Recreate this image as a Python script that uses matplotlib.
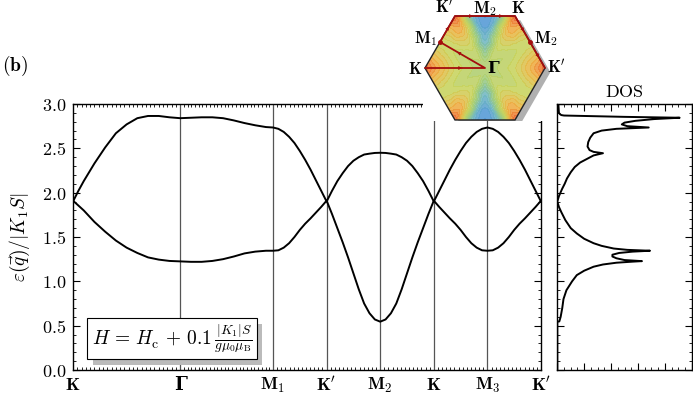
import numpy as np
import matplotlib
matplotlib.use("Agg")
import matplotlib.pyplot as plt
import matplotlib.patheffects as pe
from matplotlib.patches import Polygon
from matplotlib.colors import LinearSegmentedColormap
from matplotlib.ticker import MultipleLocator, FixedLocator, FuncFormatter
import matplotlib.tri as mtri

plt.rcParams["mathtext.fontset"] = "cm"
plt.rcParams["font.family"] = ["DejaVu Serif"]

# ---- path through the Brillouin zone --------------------------------
sym_pos = [0.0, 1.0, 1.866, 2.366, 2.866, 3.366, 3.866, 4.366]
sym_labels = [r"$\mathbf{K}$", "Γ", r"$\mathbf{M}_1$",
              r"$\mathbf{K}'$", r"$\mathbf{M}_2$", r"$\mathbf{K}$",
              r"$\mathbf{M}_3$", r"$\mathbf{K}'$"]

# ---- magnon bands ----------------------------------------------------
q = [0.0, 0.05, 0.1, 0.15, 0.2, 0.25, 0.3, 0.4, 0.5, 0.6, 0.7, 0.8, 0.9, 1.0,
     1.1, 1.2, 1.3, 1.4, 1.5, 1.6, 1.7, 1.8, 1.866,
     1.916, 1.966, 2.016, 2.066, 2.116, 2.166, 2.216, 2.266, 2.316, 2.366,
     2.416, 2.466, 2.516, 2.566, 2.616, 2.666, 2.716, 2.766, 2.816, 2.866,
     2.916, 2.966, 3.016, 3.066, 3.116, 3.166, 3.216, 3.266, 3.316, 3.366,
     3.416, 3.466, 3.516, 3.566, 3.616, 3.666, 3.716, 3.766, 3.816, 3.866,
     3.916, 3.966, 4.016, 4.066, 4.116, 4.166, 4.216, 4.266, 4.316, 4.366]

band_upper = [1.90, 2.02, 2.13, 2.23, 2.33, 2.42, 2.51, 2.67, 2.77, 2.84, 2.865, 2.865, 2.85, 2.84,
              2.845, 2.85, 2.85, 2.84, 2.815, 2.785, 2.76, 2.74, 2.735,
              2.72, 2.685, 2.63, 2.56, 2.47, 2.37, 2.26, 2.14, 2.02, 1.90,
              2.02, 2.13, 2.22, 2.30, 2.36, 2.40, 2.43, 2.44, 2.448, 2.45,
              2.448, 2.44, 2.43, 2.40, 2.36, 2.30, 2.22, 2.13, 2.02, 1.90,
              2.02, 2.14, 2.26, 2.37, 2.47, 2.56, 2.63, 2.685, 2.72, 2.735,
              2.72, 2.685, 2.63, 2.56, 2.47, 2.37, 2.26, 2.14, 2.02, 1.90]

band_lower = [1.91, 1.855, 1.80, 1.735, 1.67, 1.615, 1.56, 1.46, 1.38, 1.32, 1.27, 1.245, 1.23, 1.225,
              1.22, 1.22, 1.23, 1.25, 1.28, 1.315, 1.335, 1.345, 1.345,
              1.35, 1.38, 1.43, 1.50, 1.58, 1.65, 1.71, 1.775, 1.84, 1.91,
              1.76, 1.60, 1.44, 1.27, 1.09, 0.91, 0.75, 0.64, 0.57, 0.545,
              0.57, 0.64, 0.75, 0.91, 1.09, 1.27, 1.44, 1.60, 1.76, 1.91,
              1.84, 1.775, 1.71, 1.65, 1.58, 1.50, 1.43, 1.38, 1.35, 1.345,
              1.35, 1.38, 1.43, 1.50, 1.58, 1.65, 1.71, 1.775, 1.84, 1.91]

# ---- density of states (arbitrary units) ----------------------------
dos_e = [0.0, 0.545, 0.548, 0.60, 0.70, 0.80, 0.90, 1.00, 1.07, 1.12, 1.165, 1.19,
         1.21, 1.222, 1.228, 1.24, 1.26, 1.28, 1.30, 1.32, 1.335, 1.345, 1.355,
         1.37, 1.40, 1.43, 1.48, 1.54, 1.60, 1.69, 1.78, 1.84, 1.90, 1.96, 2.04,
         2.10, 2.16, 2.23, 2.29, 2.34, 2.38, 2.42, 2.445, 2.46, 2.48, 2.52, 2.57,
         2.62, 2.67, 2.70, 2.72, 2.735, 2.75, 2.77, 2.79, 2.81, 2.83, 2.845,
         2.855, 2.87, 2.875, 2.885, 2.90, 3.0]
dos_val = [0.0, 0.0, 0.015, 0.025, 0.037, 0.046, 0.068, 0.11, 0.145, 0.20, 0.27, 0.34,
           0.44, 0.56, 0.63, 0.50, 0.44, 0.41, 0.41, 0.46, 0.56, 0.69, 0.52,
           0.42, 0.33, 0.27, 0.20, 0.145, 0.10, 0.06, 0.03, 0.012, 0.0, 0.012, 0.035,
           0.055, 0.072, 0.10, 0.13, 0.17, 0.22, 0.27, 0.34, 0.27, 0.24, 0.225, 0.23,
           0.245, 0.27, 0.33, 0.44, 0.68, 0.52, 0.48, 0.50, 0.58, 0.72, 0.91,
           0.50, 0.05, 0.03, 0.02, 0.012, 0.008]

# ---- inset: lower-band energy profiles used to shade the zone -------
prof_r = [0.25, 0.5, 0.75, 1.0]              # fraction of the way out from Gamma
e_gamma = 1.22
e_to_k = [1.26, 1.38, 1.615, 1.90]
e_to_m1 = [1.22, 1.26, 1.325, 1.345]
e_to_m2 = [1.05, 0.80, 0.64, 0.545]
e_edge_m1 = 1.58                             # halfway M1 -> K on the zone edge
e_edge_m2 = 0.90                             # halfway M2 -> K on the zone edge

RED = "#a50d0d"
H = np.sqrt(3) / 2

fig = plt.figure(figsize=(6.93, 3.98), dpi=100)
ax = fig.add_axes([73 / 693, 28 / 398, 468 / 693, 266 / 398])
ax_dos = fig.add_axes([557.3 / 693, 28 / 398, 134.4 / 693, 266 / 398])

# bands
ax.plot(q, band_upper, color="black", lw=1.4, zorder=3)
ax.plot(q, band_lower, color="black", lw=1.4, zorder=3)
for p in sym_pos[1:-1]:
    ax.axvline(p, color="#555555", lw=0.9, zorder=1)

ax.set_xlim(sym_pos[0], sym_pos[-1])
ax.set_ylim(0, 3.0)
ax.set_xticks(sym_pos)
ax.set_xticklabels(sym_labels, fontsize=13)
gam = ax.get_xticklabels()[1]
gam.set_fontweight("bold")
minor_x = []
for a, b in zip(sym_pos[:-1], sym_pos[1:]):
    minor_x.extend(np.linspace(a, b, 26)[1:-1] if b - a > 0.6 else np.linspace(a, b, 14)[1:-1])
ax.xaxis.set_minor_locator(FixedLocator(minor_x))
ax.yaxis.set_major_locator(MultipleLocator(0.5))
ax.yaxis.set_minor_locator(MultipleLocator(0.1))
ax.yaxis.set_major_formatter(FuncFormatter(lambda v, _: f"${v:.1f}$"))
ax.tick_params(axis="both", which="both", direction="in", top=True, right=True)
ax.tick_params(axis="y", which="major", length=5, width=0.8, labelsize=13, pad=5)
ax.tick_params(axis="y", which="minor", length=2.5, width=0.6)
ax.tick_params(axis="x", which="major", length=0, pad=4)
ax.tick_params(axis="x", which="minor", length=2.5, width=0.6)
ax.set_ylabel(r"$\varepsilon(\vec{q})/|K_1S|$", fontsize=14, labelpad=7)
for s in ax.spines.values():
    s.set_linewidth(1.0)

# field annotation with shadow
formula = r"$H\,=\,H_\mathrm{c}\,+\,0.1\,\frac{|K_1|S}{g\mu_0\mu_\mathrm{B}}$"
txt = ax.text(0.04, 0.118, formula, transform=ax.transAxes, fontsize=14,
              va="center", ha="left", zorder=5,
              bbox=dict(boxstyle="square,pad=0.22", fc="white", ec="black", lw=0.8))
txt.get_bbox_patch().set_path_effects([
    pe.SimplePatchShadow(offset=(4, -4), shadow_rgbFace="#bbbbbb", alpha=1.0),
    pe.Normal()])

# DOS panel
ax_dos.plot(dos_val, dos_e, color="black", lw=1.4)
ax_dos.set_xlim(0, 1)
ax_dos.set_ylim(0, 3.0)
ax_dos.xaxis.set_major_locator(MultipleLocator(0.2))
ax_dos.xaxis.set_minor_locator(MultipleLocator(0.05))
ax_dos.yaxis.set_major_locator(MultipleLocator(0.5))
ax_dos.yaxis.set_minor_locator(MultipleLocator(0.1))
ax_dos.set_xticklabels([])
ax_dos.set_yticklabels([])
ax_dos.tick_params(axis="both", which="both", direction="in", top=True, right=True)
ax_dos.tick_params(which="major", length=5, width=0.8)
ax_dos.tick_params(which="minor", length=2.5, width=0.6)
ax_dos.set_title(r"$\mathrm{DOS}$", fontsize=13, pad=5)
for s in ax_dos.spines.values():
    s.set_linewidth(1.0)

# inset Brillouin zone
ax_bz = fig.add_axes([423 / 693, 1 - 121 / 398, 127 / 693, 121 / 398])
ax_bz.set_xlim(-1.033, 1.083)
ax_bz.set_ylim(-0.883, 1.133)
ax_bz.set_facecolor("white")
ax_bz.set_xticks([])
ax_bz.set_yticks([])
for s in ax_bz.spines.values():
    s.set_visible(False)

ang_k = np.deg2rad(np.arange(0, 360, 60))
hex_xy = np.column_stack([np.cos(ang_k), np.sin(ang_k)])
ax_bz.add_patch(Polygon(hex_xy + [0.09, -0.07], closed=True, fc="#b0b0b0", ec="none", zorder=1))
ax_bz.add_patch(Polygon(hex_xy, closed=True, fc="white", ec="none", zorder=1.5))
hex_clip = Polygon(hex_xy, closed=True, transform=ax_bz.transData)

# sample points: Gamma, rays towards corners and edge centres, edge halves
px, py, pv = [0.0], [0.0], [e_gamma]
for a in ang_k:
    for r, v in zip(prof_r, e_to_k):
        px.append(r * np.cos(a)); py.append(r * np.sin(a)); pv.append(v)
for a in np.deg2rad(np.arange(30, 360, 60)):
    is_m2 = abs(np.cos(a)) < 0.1
    mx, my = H * np.cos(a), H * np.sin(a)
    for r, v in zip(prof_r, e_to_m2 if is_m2 else e_to_m1):
        px.append(r * mx); py.append(r * my); pv.append(v)
    for side in (-1, 1):
        b = a + side * np.deg2rad(30)
        px.append(0.5 * (mx + np.cos(b))); py.append(0.5 * (my + np.sin(b)))
        pv.append(e_edge_m2 if is_m2 else e_edge_m1)

tri = mtri.Triangulation(np.round(px, 12), np.round(py, 12))
tri.set_mask(mtri.TriAnalyzer(tri).get_flat_tri_mask(min_circle_ratio=0.01))
interp = mtri.CubicTriInterpolator(tri, pv, kind="geom")
tri_f, pv_f = mtri.UniformTriRefiner(tri).refine_field(pv, triinterpolator=interp, subdiv=3)
bz_cmap = LinearSegmentedColormap.from_list(
    "bz", ["#4d93d8", "#72b8c2", "#9fcc7c", "#c9d35c", "#eeb444", "#ec6a32"])
cs = ax_bz.tricontourf(tri_f, pv_f, levels=np.linspace(0.4, 2.0, 22), cmap=bz_cmap,
                       vmin=0.545, vmax=1.9, alpha=0.88, zorder=2, extend="both")
cs.set_clip_path(hex_clip)
ax_bz.add_patch(Polygon(hex_xy, closed=True, fc="none", ec="#222222", lw=1.0, zorder=3))

path_x = [-1.0, 0.0, -0.75, -0.5, 0.0, 0.5, 0.75, 1.0]
path_y = [0.0, 0.0, H / 2, H, H, H, H / 2, 0.0]
ax_bz.plot(path_x, path_y, color=RED, lw=1.3, zorder=4, solid_capstyle="round")
for i in range(len(path_x) - 1):
    x0, y0, x1, y1 = path_x[i], path_y[i], path_x[i + 1], path_y[i + 1]
    f = 0.62 if i < 2 else 0.6
    ax_bz.annotate("", xy=(x0 + f * (x1 - x0), y0 + f * (y1 - y0)), xytext=(x0, y0),
                   arrowprops=dict(arrowstyle="-|>", color=RED, lw=0.01,
                                   mutation_scale=7, shrinkA=0, shrinkB=0),
                   zorder=5)
ax_bz.plot([-0.75, 0.75], [H / 2, H / 2], "o", color=RED, ms=2.5, zorder=5)

lab_kw = dict(fontsize=12, ha="center", va="center", zorder=6)
ax_bz.text(-1.17, -0.03, r"$\mathbf{K}$", **lab_kw)
ax_bz.text(0.13, 0.0, "Γ", fontweight="bold", **lab_kw)
ax_bz.text(-0.68, 0.99, r"$\mathbf{K}'$", **lab_kw)
ax_bz.text(0.0, 0.99, r"$\mathbf{M}_2$", **lab_kw)
ax_bz.text(0.55, 0.99, r"$\mathbf{K}$", **lab_kw)
ax_bz.text(-0.98, 0.49, r"$\mathbf{M}_1$", **lab_kw)
ax_bz.text(1.02, 0.49, r"$\mathbf{M}_2$", **lab_kw)
ax_bz.text(1.19, 0.0, r"$\mathbf{K}'$", **lab_kw)

fig.text(0.003, 0.834, r"$\mathbf{(b)}$", fontsize=14, ha="left", va="center")

fig.savefig("out.png", dpi=100)
